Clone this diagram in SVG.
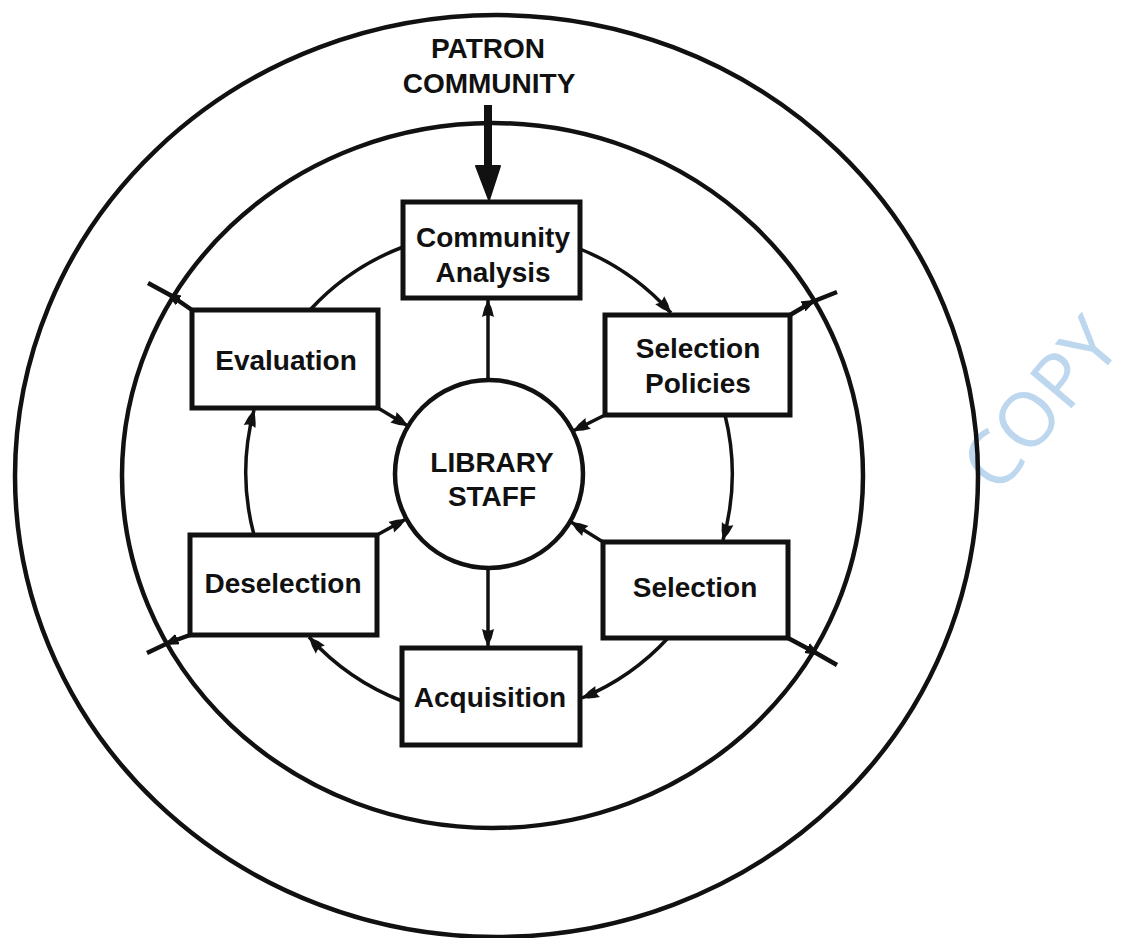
<svg xmlns="http://www.w3.org/2000/svg" width="1130" height="938" viewBox="0 0 1130 938">
<style>
.ring{fill:none;stroke:#111;stroke-width:4.5}
.box{fill:#fff;stroke:#111;stroke-width:5}
.lbl{font-family:"Liberation Sans",Arial,sans-serif;font-weight:bold;font-size:28px;fill:#111;text-anchor:middle}
.con{fill:none;stroke:#111;stroke-width:3.5}
.tick{fill:none;stroke:#111;stroke-width:4.5}
.wm{font-family:"Open Sans","Noto Sans",sans-serif;font-size:76px;fill:#bdd7ee}
</style>
<defs>
<marker id="ah" markerUnits="userSpaceOnUse" markerWidth="22" markerHeight="16" refX="17" refY="8" orient="auto">
<path d="M0,2 Q9,3.5 17,8 Q9,12.5 0,14 Q3.5,8 0,2 Z" fill="#111"/>
</marker>
<marker id="tk" markerUnits="userSpaceOnUse" markerWidth="24" markerHeight="18" refX="10" refY="9" orient="auto">
<path d="M-4,2 L15,9 L-4,16 Z" fill="#111"/>
</marker>
</defs>
<rect width="1130" height="938" fill="#fff"/>
<text class="wm" transform="translate(998,496) rotate(-50)">COPY</text>
<g id="patron-community">
<ellipse class="ring" cx="496.5" cy="476" rx="481.5" ry="461"/>
<text class="lbl" x="488" y="58">PATRON</text>
<text class="lbl" x="489" y="93">COMMUNITY</text>
</g>
<g id="inner-ring">
<ellipse class="ring" cx="492.5" cy="475.5" rx="370.5" ry="352.5"/>
</g>
<g id="connectors">
<line x1="488" y1="105" x2="488" y2="172" stroke="#111" stroke-width="8"/>
<path d="M476,166 L500,166 L489,200 Z" fill="#111" stroke="#111" stroke-width="2" stroke-linejoin="round"/>
<path class="con" d="M488,380 L488,300" marker-end="url(#ah)"/>
<path class="con" d="M488,568 L488,646" marker-end="url(#ah)"/>
<path class="con" d="M378,408 L408,426" marker-end="url(#ah)"/>
<path class="con" d="M605,415 L573,431" marker-end="url(#ah)"/>
<path class="con" d="M377,535 L406,519" marker-end="url(#ah)"/>
<path class="con" d="M603,542 L571,522" marker-end="url(#ah)"/>
<path class="con" d="M580,249 A243,243 0 0,1 671,313" marker-end="url(#ah)"/>
<path class="con" d="M725,415 A243,243 0 0,1 723,540" marker-end="url(#ah)"/>
<path class="con" d="M668,638 A243,243 0 0,1 582,698" marker-end="url(#ah)"/>
<path class="con" d="M402,701 A243,243 0 0,1 309,637" marker-end="url(#ah)"/>
<path class="con" d="M254,535 A243,243 0 0,1 254,410" marker-end="url(#ah)"/>
<path class="con" d="M310,310 A243,243 0 0,1 403,247"/>
<path class="tick" d="M192,310 L170,295 L148,283" marker-mid="url(#tk)"/>
<path class="tick" d="M790,315 L812,302 L837,292" marker-mid="url(#tk)"/>
<path class="tick" d="M190,635 L168,643 L147,653" marker-mid="url(#tk)"/>
<path class="tick" d="M788,638 L816,653 L837,665" marker-mid="url(#tk)"/>
</g>
<g id="library-staff">
<circle cx="489" cy="474" r="94" fill="#fff" stroke="#111" stroke-width="4.5"/>
<text class="lbl" x="492" y="472">LIBRARY</text>
<text class="lbl" x="492" y="506">STAFF</text>
</g>
<g id="community-analysis">
<rect class="box" x="403" y="202" width="177" height="96"/>
<text class="lbl" x="493" y="247">Community</text>
<text class="lbl" x="493" y="282">Analysis</text>
</g>
<g id="selection-policies">
<rect class="box" x="605" y="315" width="185" height="100"/>
<text class="lbl" x="698" y="358">Selection</text>
<text class="lbl" x="698" y="393">Policies</text>
</g>
<g id="selection">
<rect class="box" x="603" y="542" width="185" height="96"/>
<text class="lbl" x="695" y="597">Selection</text>
</g>
<g id="acquisition">
<rect class="box" x="402" y="648" width="178" height="97"/>
<text class="lbl" x="490" y="707">Acquisition</text>
</g>
<g id="deselection">
<rect class="box" x="190" y="535" width="187" height="100"/>
<text class="lbl" x="283" y="593">Deselection</text>
</g>
<g id="evaluation">
<rect class="box" x="192" y="310" width="186" height="98"/>
<text class="lbl" x="286" y="370">Evaluation</text>
</g>
</svg>
